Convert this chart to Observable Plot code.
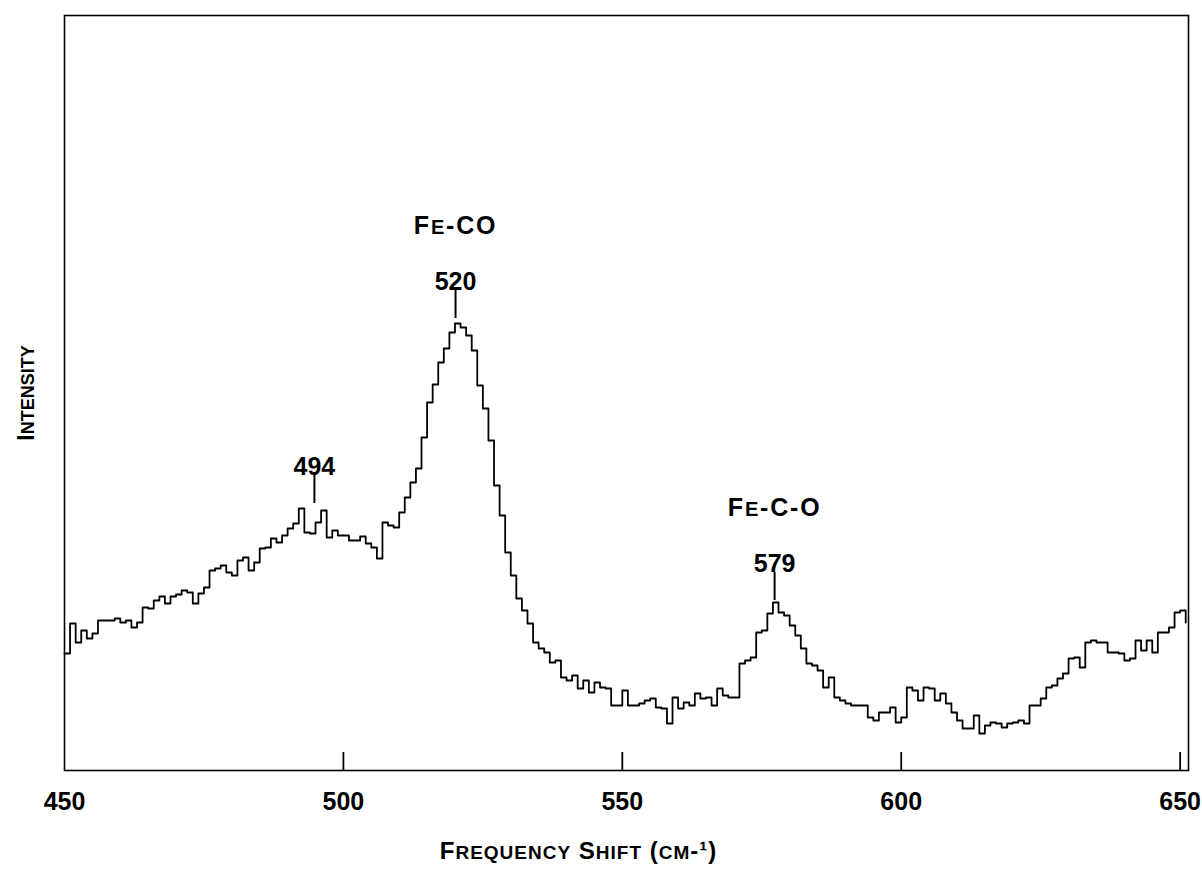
<!DOCTYPE html>
<html><head><meta charset="utf-8">
<script src="https://cdn.jsdelivr.net/npm/d3@7"></script>
<script src="https://cdn.jsdelivr.net/npm/@observablehq/plot@0.6"></script>
<style>
body{margin:0;background:#fff;}
#chart svg{font-family:"Liberation Sans",Arial,sans-serif;}
</style></head><body><div id="chart"></div>
<script>
// Raman spectrum, sampled every 1 cm-1 starting at 450 cm-1
const wavenumberStart = 450;
const intensity = [
 117,147,128,140,132,137,150,150,150,152, // 450-459
 148,150,143,148,163,162,170,174,167,174, // 460-469
 176,180,178,167,177,183,200,202,205,198, // 470-479
 195,210,213,200,208,222,223,232,228,235, // 480-489
 242,247,262,238,237,248,260,233,240,235, // 490-499
 235,230,230,234,227,223,212,248,245,243, // 500-509
 258,273,288,302,333,368,386,408,422,438, // 510-519
 447,443,435,420,385,362,330,285,255,218, // 520-529
 195,172,160,147,128,122,118,108,110,93,  // 530-539
 90,95,82,90,78,88,83,82,65,65,           // 540-549
 80,65,65,67,70,72,63,62,47,73,           // 550-559
 62,68,65,77,72,73,65,82,75,73,           // 560-569
 73,107,110,113,138,140,157,168,158,155,  // 570-579
 145,135,122,107,105,100,83,93,73,70,     // 580-589
 67,65,65,65,53,50,58,58,63,48,           // 590-599
 53,83,80,70,83,82,70,77,67,58,           // 600-609
 50,42,42,55,37,45,48,47,43,47,           // 610-619
 48,50,47,65,65,72,83,85,92,97,           // 620-629
 112,113,103,128,130,128,128,118,118,117, // 630-639
 110,112,130,120,130,118,138,138,143,158, // 640-649
 160,148                                  // 650-651
];
const xDomain = [450, 651.5];
const yDomain = [0, 755];
const xTickValues = [450, 500, 550, 600, 650];
const xTickMarks = [500, 550, 600, 650];
const peakPositions = [494.8, 520.1, 577.3];
const peakLabels = ["494", "520", "579"];
const peakAssignments = ["", "Fe-CO", "Fe-C-O"];
const peakMarkerBase = [267, 452, 170];
const xAxisTitle = "Frequency Shift (cm-\u00B9)";
const yAxisTitle = "Intensity";

const spectrum = intensity.map((v, i) => ({w: wavenumberStart + i, v}));
const peaks = peakPositions.map((x, i) => ({x, label: peakLabels[i], name: peakAssignments[i], base: peakMarkerBase[i]}));
const markerLen = 28;
const tickLen = 18;

const chart = Plot.plot({
  width: 1202,
  height: 886,
  marginLeft: 64,
  marginRight: 14,
  marginTop: 15,
  marginBottom: 116,
  style: {background: "#fff", color: "#000"},
  x: {domain: xDomain, axis: null},
  y: {domain: yDomain, axis: null},
  marks: [
    Plot.frame({stroke: "#000", strokeWidth: 1.6}),
    Plot.ruleX(xTickMarks, {y1: 0, y2: tickLen, stroke: "#000", strokeWidth: 1.8}),
    Plot.axisX({ticks: xTickValues, tickSize: 0, tickPadding: 22, fontSize: 25, fontWeight: "bold", tickFormat: d => String(d)}),
    Plot.line(spectrum, {x: "w", y: "v", curve: "step-after", stroke: "#000", strokeWidth: 1.8}),
    Plot.ruleX(peaks, {x: "x", y1: "base", y2: d => d.base + markerLen, stroke: "#000", strokeWidth: 2}),
    Plot.text(peaks, {x: "x", y: d => d.base + markerLen, text: "label", lineAnchor: "bottom", dy: -1, fontSize: 25, fontWeight: "bold"}),
    Plot.text(peaks.filter(d => d.name), {x: "x", y: d => d.base + markerLen, text: "name", lineAnchor: "bottom", dy: -57, fontSize: 25, fontWeight: "bold"}),
    Plot.text([yAxisTitle], {frameAnchor: "left", textAnchor: "middle", rotate: -90, dx: -38, fontSize: 23, fontWeight: "bold"}),
    Plot.text([xAxisTitle], {frameAnchor: "bottom", textAnchor: "middle", dy: 88, dx: -48, fontSize: 24, fontWeight: "bold"})
  ]
});

// emulate the typeset small capitals: capitals full size, lower-case letters as smaller capitals
function smallCaps(el, big, small, spacing) {
  const s = el.textContent;
  while (el.firstChild) el.removeChild(el.firstChild);
  el.setAttribute("letter-spacing", spacing);
  const runs = s.match(/[a-z]+|[^a-z]+/g) || [];
  for (const r of runs) {
    const t = document.createElementNS("http://www.w3.org/2000/svg", "tspan");
    const lower = /^[a-z]+$/.test(r);
    t.setAttribute("font-size", lower ? small : big);
    t.textContent = lower ? r.toUpperCase() : r;
    el.appendChild(t);
  }
}
chart.querySelectorAll("text").forEach(t => {
  const c = t.textContent;
  if (c === xAxisTitle) smallCaps(t, 24, 19, 1);
  else if (c === yAxisTitle) smallCaps(t, 23, 18, 0);
  else if (peakAssignments.includes(c) && c) smallCaps(t, 25, 20, 1.8);
});
document.getElementById("chart").append(chart);
</script></body></html>
